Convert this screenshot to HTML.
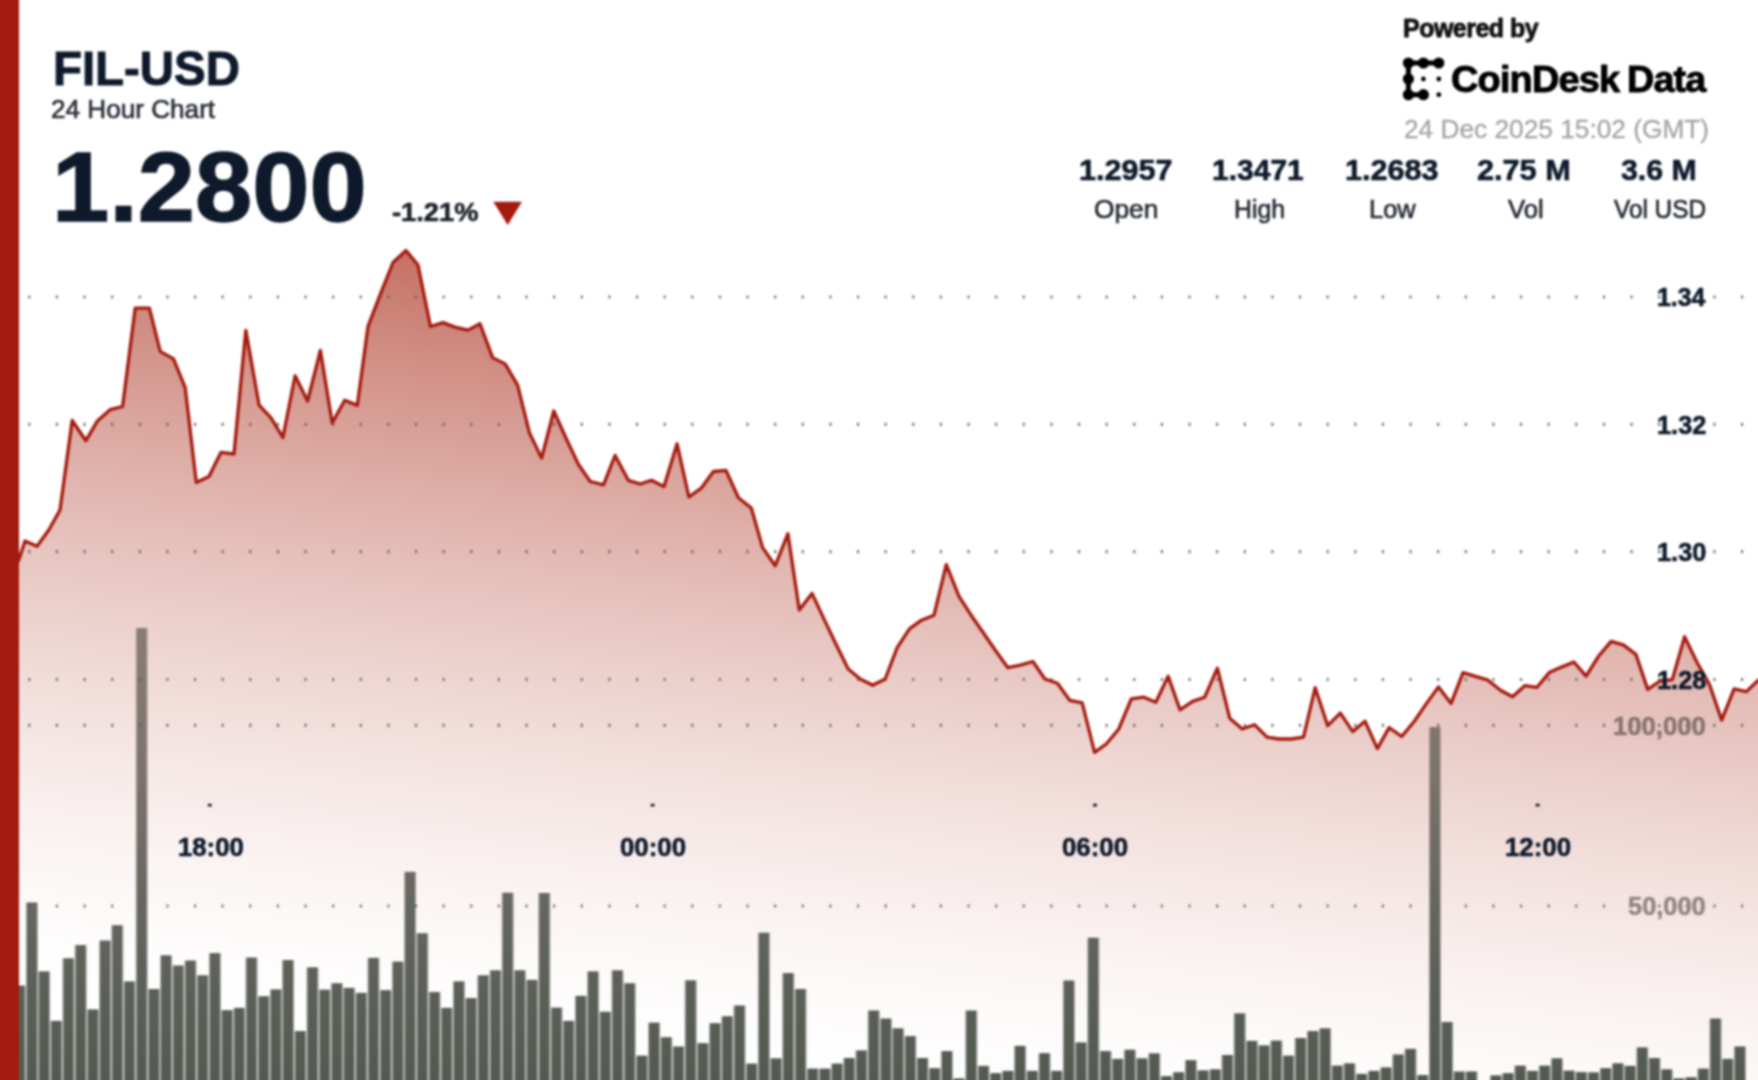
<!DOCTYPE html>
<html lang="en"><head><meta charset="utf-8"><title>FIL-USD 24 Hour Chart</title>
<style>
html,body{margin:0;padding:0;background:#fff}
body{width:1758px;height:1080px;position:relative;overflow:hidden;font-family:"Liberation Sans","DejaVu Sans",sans-serif;color:#0e1a2b}
#wrap{position:absolute;left:0;top:0;width:1758px;height:1080px;filter:blur(0.9px)}
#chart{position:absolute;left:-20px;top:-20px;width:1798px;height:1120px;display:block}
.t{position:absolute;white-space:nowrap;line-height:1;transform-origin:0 0;font-weight:700;-webkit-text-stroke:0.6px}
.r{font-weight:400;-webkit-text-stroke:0.7px}
</style></head>
<body>
<div id="wrap">
<svg id="chart" width="1798" height="1120" viewBox="-20 -20 1798 1120">
<defs>
<linearGradient id="fillg" gradientUnits="userSpaceOnUse" x1="1000" y1="311" x2="912.3" y2="1101.3">
<stop offset="0" stop-color="#a5230f" stop-opacity="0.652"/>
<stop offset="0.0625" stop-color="#a5230f" stop-opacity="0.588"/>
<stop offset="0.125" stop-color="#a5230f" stop-opacity="0.527"/>
<stop offset="0.1875" stop-color="#a5230f" stop-opacity="0.468"/>
<stop offset="0.25" stop-color="#a5230f" stop-opacity="0.412"/>
<stop offset="0.3125" stop-color="#a5230f" stop-opacity="0.358"/>
<stop offset="0.375" stop-color="#a5230f" stop-opacity="0.308"/>
<stop offset="0.4375" stop-color="#a5230f" stop-opacity="0.260"/>
<stop offset="0.5" stop-color="#a5230f" stop-opacity="0.215"/>
<stop offset="0.5625" stop-color="#a5230f" stop-opacity="0.174"/>
<stop offset="0.625" stop-color="#a5230f" stop-opacity="0.136"/>
<stop offset="0.6875" stop-color="#a5230f" stop-opacity="0.101"/>
<stop offset="0.75" stop-color="#a5230f" stop-opacity="0.071"/>
<stop offset="0.8125" stop-color="#a5230f" stop-opacity="0.045"/>
<stop offset="0.875" stop-color="#a5230f" stop-opacity="0.023"/>
<stop offset="0.9375" stop-color="#a5230f" stop-opacity="0.008"/>
<stop offset="1" stop-color="#a5230f" stop-opacity="0.000"/>
</linearGradient>
<linearGradient id="barg" gradientUnits="userSpaceOnUse" x1="0" y1="628" x2="0" y2="1080">
<stop offset="0" stop-color="#8b7b75"/>
<stop offset="0.3" stop-color="#7d746e"/>
<stop offset="0.6" stop-color="#666760"/>
<stop offset="0.82" stop-color="#5a5f57"/>
<stop offset="1" stop-color="#545a52"/>
</linearGradient>
</defs>
<rect x="-20" y="-20" width="1798" height="1120" fill="#fff"/>
<path d="M-8 590 L11 572 L18.8 560 L25 540.9 L37 546.3 L48.8 530 L60 510 L72.2 420.5 L85.9 440.7 L97.6 420.7 L110.1 409.7 L122.6 406.5 L135.2 308.1 L149.4 308.1 L160.2 351.4 L173.5 358.9 L185.2 387.7 L196.3 482.6 L209 476.5 L221 452.3 L234 454 L245.8 330.3 L259.1 405.2 L270.8 417.7 L282.9 437.5 L295.1 375.8 L307.6 401 L320.4 350.4 L332.2 423 L344.7 400.2 L357.3 405.4 L368 326.4 L380.5 293.8 L393 262.5 L406 250.5 L418 265 L430.5 326.5 L443 322.6 L455 327.1 L468 330.1 L480 323.8 L492.6 357.6 L505.1 363.9 L517.6 385.2 L529.4 432.7 L541.6 458.1 L553.8 411 L566.4 439 L578.2 464 L590.2 481.5 L603.5 484.8 L615.1 455.4 L628.3 480.3 L640.3 484 L651.5 480.3 L664 486.6 L677.1 443.8 L688.9 497 L701.6 487.8 L713.4 471.5 L725.9 470.3 L738.4 497.8 L751.3 508 L762.6 547.6 L775.2 565.8 L787.9 533.7 L799.3 610.1 L812 593.4 L823.9 618.9 L835.9 644 L848.2 669 L860.2 679 L872.7 685.3 L885.2 679 L897.2 647.7 L909.5 628.9 L921.5 620.2 L934 615.2 L946.3 564.7 L959 596.4 L971.1 615.2 L983.3 632.7 L995.3 650.2 L1007.9 667.7 L1020.4 665.2 L1032.9 661.5 L1044.9 679 L1057.4 683.3 L1069.7 700.3 L1082.2 702.8 L1094.6 752.4 L1106.3 744 L1118.8 729 L1131.3 698.9 L1143.8 697.2 L1155.8 702.2 L1168.2 676.3 L1180 709.9 L1192.6 701.4 L1204.7 697.2 L1217.4 668.2 L1229.7 718.2 L1242.2 729 L1254.5 724.7 L1267 737.2 L1279 739 L1291.5 739 L1303.5 737.2 L1315.2 687.7 L1327.7 725.7 L1340.3 713.1 L1352.8 731.6 L1365 721.3 L1377.4 748.6 L1389.1 727.6 L1401.7 736.5 L1414.2 721.5 L1426.2 703.9 L1438.5 686.9 L1451.1 703.4 L1463 672.6 L1475.5 676.4 L1488 680.2 L1500.5 690.2 L1512.5 696.8 L1524.8 685.7 L1537 687.3 L1549.3 672.6 L1561.5 667.1 L1573.9 662 L1586.1 676.1 L1598.7 656 L1611.1 641.4 L1623.3 644.9 L1635.9 654.4 L1647.7 689.4 L1660.1 681 L1672.3 679.7 L1684.6 636.8 L1696.9 662.3 L1709.5 684.5 L1721.7 720.1 L1734.1 688.9 L1746.4 691.6 L1758 680.5 L1770 676 L1785 676 L1785 1105 L-8 1105 Z" fill="url(#fillg)"/>
<g fill="url(#barg)">
<g opacity="0.5">
<rect x="13.60" y="985.6" width="12.2" height="119.4"/>
<rect x="25.80" y="902.6" width="12.2" height="202.4"/>
<rect x="38.00" y="971.5" width="12.2" height="133.5"/>
<rect x="50.20" y="1020.9" width="12.2" height="84.1"/>
<rect x="62.40" y="958.3" width="12.2" height="146.7"/>
<rect x="74.60" y="945.1" width="12.2" height="159.9"/>
<rect x="86.80" y="1009.5" width="12.2" height="95.5"/>
<rect x="99.00" y="940.6" width="12.2" height="164.4"/>
<rect x="111.20" y="925.3" width="12.2" height="179.7"/>
<rect x="123.40" y="981.5" width="12.2" height="123.5"/>
<rect x="135.60" y="628" width="12.2" height="477"/>
<rect x="147.80" y="989" width="12.2" height="116"/>
<rect x="160.00" y="955.4" width="12.2" height="149.6"/>
<rect x="172.20" y="965.6" width="12.2" height="139.4"/>
<rect x="184.40" y="960.6" width="12.2" height="144.4"/>
<rect x="196.60" y="975.4" width="12.2" height="129.6"/>
<rect x="208.80" y="953.1" width="12.2" height="151.9"/>
<rect x="221.00" y="1010.2" width="12.2" height="94.8"/>
<rect x="233.20" y="1007.9" width="12.2" height="97.1"/>
<rect x="245.40" y="957.6" width="12.2" height="147.4"/>
<rect x="257.60" y="996.3" width="12.2" height="108.7"/>
<rect x="269.80" y="989.5" width="12.2" height="115.5"/>
<rect x="282.00" y="960.1" width="12.2" height="144.9"/>
<rect x="294.20" y="1031.1" width="12.2" height="73.9"/>
<rect x="306.40" y="967.4" width="12.2" height="137.6"/>
<rect x="318.60" y="989.7" width="12.2" height="115.3"/>
<rect x="330.80" y="983.3" width="12.2" height="121.7"/>
<rect x="343.00" y="987.9" width="12.2" height="117.1"/>
<rect x="355.20" y="992.9" width="12.2" height="112.1"/>
<rect x="367.40" y="957.9" width="12.2" height="147.1"/>
<rect x="379.60" y="990.2" width="12.2" height="114.8"/>
<rect x="391.80" y="961.7" width="12.2" height="143.3"/>
<rect x="404.00" y="871.9" width="12.2" height="233.1"/>
<rect x="416.20" y="933.3" width="12.2" height="171.7"/>
<rect x="428.40" y="992" width="12.2" height="113"/>
<rect x="440.60" y="1007.9" width="12.2" height="97.1"/>
<rect x="452.80" y="981.5" width="12.2" height="123.5"/>
<rect x="465.00" y="998.1" width="12.2" height="106.9"/>
<rect x="477.20" y="975.4" width="12.2" height="129.6"/>
<rect x="489.40" y="970.4" width="12.2" height="134.6"/>
<rect x="501.60" y="892.8" width="12.2" height="212.2"/>
<rect x="513.80" y="970.4" width="12.2" height="134.6"/>
<rect x="526.00" y="979.9" width="12.2" height="125.1"/>
<rect x="538.20" y="893" width="12.2" height="212"/>
<rect x="550.40" y="1007.7" width="12.2" height="97.3"/>
<rect x="562.60" y="1020.9" width="12.2" height="84.1"/>
<rect x="574.80" y="995.9" width="12.2" height="109.1"/>
<rect x="587.00" y="971.5" width="12.2" height="133.5"/>
<rect x="599.20" y="1011.8" width="12.2" height="93.2"/>
<rect x="611.40" y="970.4" width="12.2" height="134.6"/>
<rect x="623.60" y="983.3" width="12.2" height="121.7"/>
<rect x="635.80" y="1055.7" width="12.2" height="49.3"/>
<rect x="648.00" y="1022.7" width="12.2" height="82.3"/>
<rect x="660.20" y="1037.3" width="12.2" height="67.7"/>
<rect x="672.40" y="1046.6" width="12.2" height="58.4"/>
<rect x="684.60" y="980.4" width="12.2" height="124.6"/>
<rect x="696.80" y="1043.2" width="12.2" height="61.8"/>
<rect x="709.00" y="1023.2" width="12.2" height="81.8"/>
<rect x="721.20" y="1016.3" width="12.2" height="88.7"/>
<rect x="733.40" y="1005.6" width="12.2" height="99.4"/>
<rect x="745.60" y="1063.7" width="12.2" height="41.3"/>
<rect x="757.80" y="932.8" width="12.2" height="172.2"/>
<rect x="770.00" y="1058.4" width="12.2" height="46.6"/>
<rect x="782.20" y="973.1" width="12.2" height="131.9"/>
<rect x="794.40" y="989" width="12.2" height="116"/>
<rect x="806.60" y="1068.7" width="12.2" height="36.3"/>
<rect x="818.80" y="1068.7" width="12.2" height="36.3"/>
<rect x="831.00" y="1063.7" width="12.2" height="41.3"/>
<rect x="843.20" y="1058" width="12.2" height="47"/>
<rect x="855.40" y="1050.5" width="12.2" height="54.5"/>
<rect x="867.60" y="1010.6" width="12.2" height="94.4"/>
<rect x="879.80" y="1018.6" width="12.2" height="86.4"/>
<rect x="892.00" y="1028.4" width="12.2" height="76.6"/>
<rect x="904.20" y="1036.1" width="12.2" height="68.9"/>
<rect x="916.40" y="1058" width="12.2" height="47"/>
<rect x="928.60" y="1068.2" width="12.2" height="36.8"/>
<rect x="940.80" y="1051.1" width="12.2" height="53.9"/>
<rect x="953.00" y="1078.5" width="12.2" height="26.5"/>
<rect x="965.20" y="1010.6" width="12.2" height="94.4"/>
<rect x="977.40" y="1065.9" width="12.2" height="39.1"/>
<rect x="989.60" y="1073.2" width="12.2" height="31.8"/>
<rect x="1001.80" y="1070.9" width="12.2" height="34.1"/>
<rect x="1014.00" y="1045.9" width="12.2" height="59.1"/>
<rect x="1026.20" y="1070.9" width="12.2" height="34.1"/>
<rect x="1038.40" y="1053.2" width="12.2" height="51.8"/>
<rect x="1050.60" y="1070.9" width="12.2" height="34.1"/>
<rect x="1062.80" y="980.6" width="12.2" height="124.4"/>
<rect x="1075.00" y="1042.5" width="12.2" height="62.5"/>
<rect x="1087.20" y="937.8" width="12.2" height="167.2"/>
<rect x="1099.40" y="1051.1" width="12.2" height="53.9"/>
<rect x="1111.60" y="1058.9" width="12.2" height="46.1"/>
<rect x="1123.80" y="1049.8" width="12.2" height="55.2"/>
<rect x="1136.00" y="1058.4" width="12.2" height="46.6"/>
<rect x="1148.20" y="1053.4" width="12.2" height="51.6"/>
<rect x="1160.40" y="1076.2" width="12.2" height="28.8"/>
<rect x="1172.60" y="1072.3" width="12.2" height="32.7"/>
<rect x="1184.80" y="1060.2" width="12.2" height="44.8"/>
<rect x="1197.00" y="1070.5" width="12.2" height="34.5"/>
<rect x="1209.20" y="1069.4" width="12.2" height="35.6"/>
<rect x="1221.40" y="1055" width="12.2" height="50"/>
<rect x="1233.60" y="1013.4" width="12.2" height="91.6"/>
<rect x="1245.80" y="1040.9" width="12.2" height="64.1"/>
<rect x="1258.00" y="1045.5" width="12.2" height="59.5"/>
<rect x="1270.20" y="1040.7" width="12.2" height="64.3"/>
<rect x="1282.40" y="1055.7" width="12.2" height="49.3"/>
<rect x="1294.60" y="1038" width="12.2" height="67"/>
<rect x="1306.80" y="1031.1" width="12.2" height="73.9"/>
<rect x="1319.00" y="1028.4" width="12.2" height="76.6"/>
<rect x="1331.20" y="1065.7" width="12.2" height="39.3"/>
<rect x="1343.40" y="1063.4" width="12.2" height="41.6"/>
<rect x="1355.60" y="1073.9" width="12.2" height="31.1"/>
<rect x="1367.80" y="1070.9" width="12.2" height="34.1"/>
<rect x="1380.00" y="1067.5" width="12.2" height="37.5"/>
<rect x="1392.20" y="1054.6" width="12.2" height="50.4"/>
<rect x="1404.40" y="1048.9" width="12.2" height="56.1"/>
<rect x="1416.60" y="1075" width="12.2" height="30"/>
<rect x="1428.80" y="727.2" width="12.2" height="377.8"/>
<rect x="1441.00" y="1022" width="12.2" height="83"/>
<rect x="1453.20" y="1071.6" width="12.2" height="33.4"/>
<rect x="1465.40" y="1071.6" width="12.2" height="33.4"/>
<rect x="1489.80" y="1075.5" width="12.2" height="29.5"/>
<rect x="1502.00" y="1073.2" width="12.2" height="31.8"/>
<rect x="1514.20" y="1065.7" width="12.2" height="39.3"/>
<rect x="1526.40" y="1070.9" width="12.2" height="34.1"/>
<rect x="1538.60" y="1065.7" width="12.2" height="39.3"/>
<rect x="1550.80" y="1058.4" width="12.2" height="46.6"/>
<rect x="1563.00" y="1070.7" width="12.2" height="34.3"/>
<rect x="1575.20" y="1072.1" width="12.2" height="32.9"/>
<rect x="1587.40" y="1072.5" width="12.2" height="32.5"/>
<rect x="1599.60" y="1068.2" width="12.2" height="36.8"/>
<rect x="1611.80" y="1063.4" width="12.2" height="41.6"/>
<rect x="1624.00" y="1065.9" width="12.2" height="39.1"/>
<rect x="1636.20" y="1047.5" width="12.2" height="57.5"/>
<rect x="1648.40" y="1058" width="12.2" height="47"/>
<rect x="1660.60" y="1069.4" width="12.2" height="35.6"/>
<rect x="1672.80" y="1078.5" width="12.2" height="26.5"/>
<rect x="1685.00" y="1077.3" width="12.2" height="27.7"/>
<rect x="1697.20" y="1068.7" width="12.2" height="36.3"/>
<rect x="1709.40" y="1018.6" width="12.2" height="86.4"/>
<rect x="1721.60" y="1058.9" width="12.2" height="46.1"/>
<rect x="1733.80" y="1046.6" width="12.2" height="58.4"/>
</g>
<rect x="14.8" y="985.6" width="9.8" height="119.4"/>
<rect x="27" y="902.6" width="9.8" height="202.4"/>
<rect x="39.2" y="971.5" width="9.8" height="133.5"/>
<rect x="51.4" y="1020.9" width="9.8" height="84.1"/>
<rect x="63.6" y="958.3" width="9.8" height="146.7"/>
<rect x="75.8" y="945.1" width="9.8" height="159.9"/>
<rect x="88" y="1009.5" width="9.8" height="95.5"/>
<rect x="100.2" y="940.6" width="9.8" height="164.4"/>
<rect x="112.4" y="925.3" width="9.8" height="179.7"/>
<rect x="124.6" y="981.5" width="9.8" height="123.5"/>
<rect x="136.8" y="628" width="9.8" height="477"/>
<rect x="149" y="989" width="9.8" height="116"/>
<rect x="161.2" y="955.4" width="9.8" height="149.6"/>
<rect x="173.4" y="965.6" width="9.8" height="139.4"/>
<rect x="185.6" y="960.6" width="9.8" height="144.4"/>
<rect x="197.8" y="975.4" width="9.8" height="129.6"/>
<rect x="210" y="953.1" width="9.8" height="151.9"/>
<rect x="222.2" y="1010.2" width="9.8" height="94.8"/>
<rect x="234.4" y="1007.9" width="9.8" height="97.1"/>
<rect x="246.6" y="957.6" width="9.8" height="147.4"/>
<rect x="258.8" y="996.3" width="9.8" height="108.7"/>
<rect x="271" y="989.5" width="9.8" height="115.5"/>
<rect x="283.2" y="960.1" width="9.8" height="144.9"/>
<rect x="295.4" y="1031.1" width="9.8" height="73.9"/>
<rect x="307.6" y="967.4" width="9.8" height="137.6"/>
<rect x="319.8" y="989.7" width="9.8" height="115.3"/>
<rect x="332" y="983.3" width="9.8" height="121.7"/>
<rect x="344.2" y="987.9" width="9.8" height="117.1"/>
<rect x="356.4" y="992.9" width="9.8" height="112.1"/>
<rect x="368.6" y="957.9" width="9.8" height="147.1"/>
<rect x="380.8" y="990.2" width="9.8" height="114.8"/>
<rect x="393" y="961.7" width="9.8" height="143.3"/>
<rect x="405.2" y="871.9" width="9.8" height="233.1"/>
<rect x="417.4" y="933.3" width="9.8" height="171.7"/>
<rect x="429.6" y="992" width="9.8" height="113"/>
<rect x="441.8" y="1007.9" width="9.8" height="97.1"/>
<rect x="454" y="981.5" width="9.8" height="123.5"/>
<rect x="466.2" y="998.1" width="9.8" height="106.9"/>
<rect x="478.4" y="975.4" width="9.8" height="129.6"/>
<rect x="490.6" y="970.4" width="9.8" height="134.6"/>
<rect x="502.8" y="892.8" width="9.8" height="212.2"/>
<rect x="515" y="970.4" width="9.8" height="134.6"/>
<rect x="527.2" y="979.9" width="9.8" height="125.1"/>
<rect x="539.4" y="893" width="9.8" height="212"/>
<rect x="551.6" y="1007.7" width="9.8" height="97.3"/>
<rect x="563.8" y="1020.9" width="9.8" height="84.1"/>
<rect x="576" y="995.9" width="9.8" height="109.1"/>
<rect x="588.2" y="971.5" width="9.8" height="133.5"/>
<rect x="600.4" y="1011.8" width="9.8" height="93.2"/>
<rect x="612.6" y="970.4" width="9.8" height="134.6"/>
<rect x="624.8" y="983.3" width="9.8" height="121.7"/>
<rect x="637" y="1055.7" width="9.8" height="49.3"/>
<rect x="649.2" y="1022.7" width="9.8" height="82.3"/>
<rect x="661.4" y="1037.3" width="9.8" height="67.7"/>
<rect x="673.6" y="1046.6" width="9.8" height="58.4"/>
<rect x="685.8" y="980.4" width="9.8" height="124.6"/>
<rect x="698" y="1043.2" width="9.8" height="61.8"/>
<rect x="710.2" y="1023.2" width="9.8" height="81.8"/>
<rect x="722.4" y="1016.3" width="9.8" height="88.7"/>
<rect x="734.6" y="1005.6" width="9.8" height="99.4"/>
<rect x="746.8" y="1063.7" width="9.8" height="41.3"/>
<rect x="759" y="932.8" width="9.8" height="172.2"/>
<rect x="771.2" y="1058.4" width="9.8" height="46.6"/>
<rect x="783.4" y="973.1" width="9.8" height="131.9"/>
<rect x="795.6" y="989" width="9.8" height="116"/>
<rect x="807.8" y="1068.7" width="9.8" height="36.3"/>
<rect x="820" y="1068.7" width="9.8" height="36.3"/>
<rect x="832.2" y="1063.7" width="9.8" height="41.3"/>
<rect x="844.4" y="1058" width="9.8" height="47"/>
<rect x="856.6" y="1050.5" width="9.8" height="54.5"/>
<rect x="868.8" y="1010.6" width="9.8" height="94.4"/>
<rect x="881" y="1018.6" width="9.8" height="86.4"/>
<rect x="893.2" y="1028.4" width="9.8" height="76.6"/>
<rect x="905.4" y="1036.1" width="9.8" height="68.9"/>
<rect x="917.6" y="1058" width="9.8" height="47"/>
<rect x="929.8" y="1068.2" width="9.8" height="36.8"/>
<rect x="942" y="1051.1" width="9.8" height="53.9"/>
<rect x="954.2" y="1078.5" width="9.8" height="26.5"/>
<rect x="966.4" y="1010.6" width="9.8" height="94.4"/>
<rect x="978.6" y="1065.9" width="9.8" height="39.1"/>
<rect x="990.8" y="1073.2" width="9.8" height="31.8"/>
<rect x="1003" y="1070.9" width="9.8" height="34.1"/>
<rect x="1015.2" y="1045.9" width="9.8" height="59.1"/>
<rect x="1027.4" y="1070.9" width="9.8" height="34.1"/>
<rect x="1039.6" y="1053.2" width="9.8" height="51.8"/>
<rect x="1051.8" y="1070.9" width="9.8" height="34.1"/>
<rect x="1064" y="980.6" width="9.8" height="124.4"/>
<rect x="1076.2" y="1042.5" width="9.8" height="62.5"/>
<rect x="1088.4" y="937.8" width="9.8" height="167.2"/>
<rect x="1100.6" y="1051.1" width="9.8" height="53.9"/>
<rect x="1112.8" y="1058.9" width="9.8" height="46.1"/>
<rect x="1125" y="1049.8" width="9.8" height="55.2"/>
<rect x="1137.2" y="1058.4" width="9.8" height="46.6"/>
<rect x="1149.4" y="1053.4" width="9.8" height="51.6"/>
<rect x="1161.6" y="1076.2" width="9.8" height="28.8"/>
<rect x="1173.8" y="1072.3" width="9.8" height="32.7"/>
<rect x="1186" y="1060.2" width="9.8" height="44.8"/>
<rect x="1198.2" y="1070.5" width="9.8" height="34.5"/>
<rect x="1210.4" y="1069.4" width="9.8" height="35.6"/>
<rect x="1222.6" y="1055" width="9.8" height="50"/>
<rect x="1234.8" y="1013.4" width="9.8" height="91.6"/>
<rect x="1247" y="1040.9" width="9.8" height="64.1"/>
<rect x="1259.2" y="1045.5" width="9.8" height="59.5"/>
<rect x="1271.4" y="1040.7" width="9.8" height="64.3"/>
<rect x="1283.6" y="1055.7" width="9.8" height="49.3"/>
<rect x="1295.8" y="1038" width="9.8" height="67"/>
<rect x="1308" y="1031.1" width="9.8" height="73.9"/>
<rect x="1320.2" y="1028.4" width="9.8" height="76.6"/>
<rect x="1332.4" y="1065.7" width="9.8" height="39.3"/>
<rect x="1344.6" y="1063.4" width="9.8" height="41.6"/>
<rect x="1356.8" y="1073.9" width="9.8" height="31.1"/>
<rect x="1369" y="1070.9" width="9.8" height="34.1"/>
<rect x="1381.2" y="1067.5" width="9.8" height="37.5"/>
<rect x="1393.4" y="1054.6" width="9.8" height="50.4"/>
<rect x="1405.6" y="1048.9" width="9.8" height="56.1"/>
<rect x="1417.8" y="1075" width="9.8" height="30"/>
<rect x="1430" y="727.2" width="9.8" height="377.8"/>
<rect x="1442.2" y="1022" width="9.8" height="83"/>
<rect x="1454.4" y="1071.6" width="9.8" height="33.4"/>
<rect x="1466.6" y="1071.6" width="9.8" height="33.4"/>
<rect x="1491" y="1075.5" width="9.8" height="29.5"/>
<rect x="1503.2" y="1073.2" width="9.8" height="31.8"/>
<rect x="1515.4" y="1065.7" width="9.8" height="39.3"/>
<rect x="1527.6" y="1070.9" width="9.8" height="34.1"/>
<rect x="1539.8" y="1065.7" width="9.8" height="39.3"/>
<rect x="1552" y="1058.4" width="9.8" height="46.6"/>
<rect x="1564.2" y="1070.7" width="9.8" height="34.3"/>
<rect x="1576.4" y="1072.1" width="9.8" height="32.9"/>
<rect x="1588.6" y="1072.5" width="9.8" height="32.5"/>
<rect x="1600.8" y="1068.2" width="9.8" height="36.8"/>
<rect x="1613" y="1063.4" width="9.8" height="41.6"/>
<rect x="1625.2" y="1065.9" width="9.8" height="39.1"/>
<rect x="1637.4" y="1047.5" width="9.8" height="57.5"/>
<rect x="1649.6" y="1058" width="9.8" height="47"/>
<rect x="1661.8" y="1069.4" width="9.8" height="35.6"/>
<rect x="1674" y="1078.5" width="9.8" height="26.5"/>
<rect x="1686.2" y="1077.3" width="9.8" height="27.7"/>
<rect x="1698.4" y="1068.7" width="9.8" height="36.3"/>
<rect x="1710.6" y="1018.6" width="9.8" height="86.4"/>
<rect x="1722.8" y="1058.9" width="9.8" height="46.1"/>
<rect x="1735" y="1046.6" width="9.8" height="58.4"/>
</g>
<g stroke="#5c5c5c" stroke-width="3.2" stroke-dasharray="2.2 25.425" stroke-opacity="0.8" fill="none">
<line x1="28.2" y1="297" x2="1760" y2="297"/>
<line x1="28.2" y1="424.3" x2="1760" y2="424.3"/>
<line x1="28.2" y1="551.6" x2="1760" y2="551.6"/>
<line x1="28.2" y1="679.5" x2="1760" y2="679.5"/>
<line x1="28.2" y1="725.3" x2="1760" y2="725.3"/>
<line x1="28.2" y1="906" x2="1760" y2="906"/>
</g>
<path d="M-8 590 L11 572 L18.8 560 L25 540.9 L37 546.3 L48.8 530 L60 510 L72.2 420.5 L85.9 440.7 L97.6 420.7 L110.1 409.7 L122.6 406.5 L135.2 308.1 L149.4 308.1 L160.2 351.4 L173.5 358.9 L185.2 387.7 L196.3 482.6 L209 476.5 L221 452.3 L234 454 L245.8 330.3 L259.1 405.2 L270.8 417.7 L282.9 437.5 L295.1 375.8 L307.6 401 L320.4 350.4 L332.2 423 L344.7 400.2 L357.3 405.4 L368 326.4 L380.5 293.8 L393 262.5 L406 250.5 L418 265 L430.5 326.5 L443 322.6 L455 327.1 L468 330.1 L480 323.8 L492.6 357.6 L505.1 363.9 L517.6 385.2 L529.4 432.7 L541.6 458.1 L553.8 411 L566.4 439 L578.2 464 L590.2 481.5 L603.5 484.8 L615.1 455.4 L628.3 480.3 L640.3 484 L651.5 480.3 L664 486.6 L677.1 443.8 L688.9 497 L701.6 487.8 L713.4 471.5 L725.9 470.3 L738.4 497.8 L751.3 508 L762.6 547.6 L775.2 565.8 L787.9 533.7 L799.3 610.1 L812 593.4 L823.9 618.9 L835.9 644 L848.2 669 L860.2 679 L872.7 685.3 L885.2 679 L897.2 647.7 L909.5 628.9 L921.5 620.2 L934 615.2 L946.3 564.7 L959 596.4 L971.1 615.2 L983.3 632.7 L995.3 650.2 L1007.9 667.7 L1020.4 665.2 L1032.9 661.5 L1044.9 679 L1057.4 683.3 L1069.7 700.3 L1082.2 702.8 L1094.6 752.4 L1106.3 744 L1118.8 729 L1131.3 698.9 L1143.8 697.2 L1155.8 702.2 L1168.2 676.3 L1180 709.9 L1192.6 701.4 L1204.7 697.2 L1217.4 668.2 L1229.7 718.2 L1242.2 729 L1254.5 724.7 L1267 737.2 L1279 739 L1291.5 739 L1303.5 737.2 L1315.2 687.7 L1327.7 725.7 L1340.3 713.1 L1352.8 731.6 L1365 721.3 L1377.4 748.6 L1389.1 727.6 L1401.7 736.5 L1414.2 721.5 L1426.2 703.9 L1438.5 686.9 L1451.1 703.4 L1463 672.6 L1475.5 676.4 L1488 680.2 L1500.5 690.2 L1512.5 696.8 L1524.8 685.7 L1537 687.3 L1549.3 672.6 L1561.5 667.1 L1573.9 662 L1586.1 676.1 L1598.7 656 L1611.1 641.4 L1623.3 644.9 L1635.9 654.4 L1647.7 689.4 L1660.1 681 L1672.3 679.7 L1684.6 636.8 L1696.9 662.3 L1709.5 684.5 L1721.7 720.1 L1734.1 688.9 L1746.4 691.6 L1758 680.5 L1770 676 L1785 676" fill="none" stroke="#a51a0e" stroke-width="3.3" stroke-linejoin="round"/>
<g fill="#1a1f2a"><rect x="207.7" y="803.8" width="4.2" height="2.8" rx="1"/><rect x="650.5" y="803.8" width="4.2" height="2.8" rx="1"/><rect x="1092.9" y="803.8" width="4.2" height="2.8" rx="1"/><rect x="1535.5" y="803.8" width="4.2" height="2.8" rx="1"/></g>
<rect x="-20" y="-20" width="39" height="1120" fill="#a51a0e"/>
<polygon points="493.3,201.8 522,201.8 507.7,225" fill="#a51a0e"/>
<g id="logo" fill="#000" stroke="#000">
<path d="M1438.8 63 H1408.4 V94.7 H1423.4" fill="none" stroke-width="5" stroke-linecap="round" stroke-linejoin="round"/>
<circle cx="1408.4" cy="63" r="5.6" stroke="none"/><circle cx="1423.4" cy="63" r="5.6" stroke="none"/><circle cx="1438.8" cy="63" r="5.6" stroke="none"/>
<circle cx="1408.4" cy="79" r="5.6" stroke="none"/><circle cx="1408.4" cy="94.7" r="5.6" stroke="none"/><circle cx="1423.4" cy="94.7" r="5.6" stroke="none"/>
<circle cx="1423.4" cy="79" r="2.4" stroke="none"/><circle cx="1438.8" cy="79" r="2.4" stroke="none"/><circle cx="1438.8" cy="94.7" r="2.4" stroke="none"/>
</g>
</svg>
<div class="t" id="t1" style="left:53.03px;top:45px;font-size:48px;color:#0e1a2b;transform:scaleX(0.987);-webkit-text-stroke:1px">FIL-USD</div>
<div class="t r" id="t2" style="left:51.2px;top:95.8px;font-size:26px;color:#2b313a;transform:scaleX(1.005)">24 Hour Chart</div>
<div class="t" id="t3" style="left:52.21px;top:137px;font-size:99px;color:#0e1a2b;transform:scaleX(1.039);-webkit-text-stroke:1.4px">1.2800</div>
<div class="t" id="t4" style="left:392.38px;top:199px;font-size:26px;color:#1d222c;transform:scaleX(1.050)">-1.21%</div>
<div class="t" id="t5" style="left:1402.6px;top:15.7px;font-size:25px;color:#111;transform:scaleX(0.998);letter-spacing:-0.5px;-webkit-text-stroke:0.8px">Powered by</div>
<div class="t" id="t6" style="left:1450.56px;top:61.9px;font-size:36px;color:#000;transform:scaleX(1.054);letter-spacing:-0.8px;-webkit-text-stroke:0.9px">CoinDesk</div>
<div class="t" id="t6b" style="left:1627.31px;top:61.9px;font-size:36px;color:#000;transform:scaleX(1.048);letter-spacing:-0.8px;-webkit-text-stroke:0.9px">Data</div>
<div class="t r" id="t7" style="left:1404.41px;top:115.7px;font-size:26.5px;color:#a4a4a4;transform:scaleX(0.991);-webkit-text-stroke:0.3px">24 Dec 2025 15:02 (GMT)</div>
<div class="t" id="v1" style="left:1079.18px;top:155.3px;font-size:30px;color:#0e1a2b;transform:scaleX(1.018)">1.2957</div>
<div class="t" id="v2" style="left:1212px;top:155.3px;font-size:30px;color:#0e1a2b">1.3471</div>
<div class="t" id="v3" style="left:1344.97px;top:155.3px;font-size:30px;color:#0e1a2b;transform:scaleX(1.019)">1.2683</div>
<div class="t" id="v4" style="left:1477.38px;top:155.3px;font-size:30px;color:#0e1a2b;transform:scaleX(1.022)">2.75 M</div>
<div class="t" id="v5" style="left:1621.4px;top:155.3px;font-size:30px;color:#0e1a2b;transform:scaleX(1.011)">3.6 M</div>
<div class="t r" id="l1" style="left:1094.2px;top:196.2px;font-size:26px;color:#272d36;transform:scaleX(1.011)">Open</div>
<div class="t r" id="l2" style="left:1234.48px;top:196.2px;font-size:26px;color:#272d36;transform:scaleX(0.953)">High</div>
<div class="t r" id="l3" style="left:1369.43px;top:196.2px;font-size:26px;color:#272d36;transform:scaleX(0.977)">Low</div>
<div class="t r" id="l4" style="left:1507.99px;top:196.2px;font-size:26px;color:#272d36;transform:scaleX(0.986)">Vol</div>
<div class="t r" id="l5" style="left:1613.97px;top:196.2px;font-size:26px;color:#272d36;transform:scaleX(0.936)">Vol USD</div>
<div class="t" id="y1" style="left:1657.44px;top:284.3px;font-size:26px;color:#0e1a2b;transform:scaleX(0.956)">1.34</div>
<div class="t" id="y2" style="left:1657.42px;top:411.6px;font-size:26px;color:#0e1a2b;transform:scaleX(0.976)">1.32</div>
<div class="t" id="y3" style="left:1657.42px;top:538.9px;font-size:26px;color:#0e1a2b;transform:scaleX(0.976)">1.30</div>
<div class="t" id="y4" style="left:1657.42px;top:666.6px;font-size:26px;color:#0e1a2b;transform:scaleX(0.976)">1.28</div>
<div class="t" id="y5" style="left:1613.01px;top:712.9px;font-size:26px;color:#8a7470;transform:scaleX(0.986)">100,000</div>
<div class="t" id="y6" style="left:1628px;top:893.3px;font-size:26px;color:#928785;transform:scaleX(0.977)">50,000</div>
<div class="t" id="x1" style="left:177.81px;top:834.1px;font-size:26px;color:#0e1a2b;transform:scaleX(0.989)">18:00</div>
<div class="t" id="x2" style="left:620px;top:834.1px;font-size:26px;color:#0e1a2b;transform:scaleX(0.994)">00:00</div>
<div class="t" id="x3" style="left:1061.8px;top:834.1px;font-size:26px;color:#0e1a2b;transform:scaleX(0.994)">06:00</div>
<div class="t" id="x4" style="left:1505.01px;top:834.1px;font-size:26px;color:#0e1a2b;transform:scaleX(0.994)">12:00</div>
</div>
</body></html>
